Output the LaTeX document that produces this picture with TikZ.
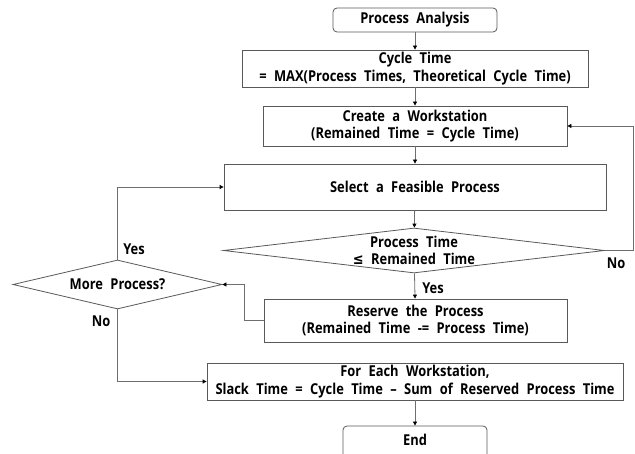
\documentclass[tikz,border=0pt]{standalone}
\usepackage{fontspec}
\setmainfont{Open Sans}[FakeStretch=0.86, WordSpace=2.2]
\newfontfamily\symfont{DejaVu Sans}[FakeStretch=0.86]
\usetikzlibrary{shapes.geometric,arrows.meta}
\definecolor{boxgray}{HTML}{595959}
\definecolor{linegray}{HTML}{6E6E6E}
\begin{document}
\begin{tikzpicture}[x=1pt,y=-1pt,
  txt/.style={font=\fontsize{15}{17.5}\selectfont\bfseries},
  proc/.style={txt, draw=boxgray, line width=0.8pt, fill=white, align=center, inner sep=0pt},
  term/.style={proc, rounded corners=4pt},
  decision/.style={draw=boxgray, line width=0.8pt, fill=white, diamond, inner sep=0pt},
  lbl/.style={txt, inner sep=0pt, align=center},
  flow/.style={draw=linegray, line width=0.8pt, -{Triangle[length=4pt,width=4pt,color=black]}}]
\clip (0,0) rectangle (635,454);

% main column
\node[term, minimum width=164pt, minimum height=24pt] (pa) at (415,20) {Process Analysis};
\node[proc, minimum width=346pt, minimum height=37pt] (ct) at (415,68.5) {Cycle Time\\ = MAX(Process Times, Theoretical Cycle Time)};
\node[proc, minimum width=304pt, minimum height=40pt] (cw) at (415,126) {Create a Workstation\\(Remained Time = Cycle Time)};
\node[proc, minimum width=382pt, minimum height=46pt] (sf) at (415,187) {Select a Feasible Process};
\node[decision, minimum width=381pt, minimum height=45pt] (d1) at (414,250.5) {};
\node[lbl] (d1txt) at (d1) {Process Time\\{\symfont ≤} Remained Time};
\node[proc, minimum width=303pt, minimum height=43pt] (rp) at (415.5,320.5) {Reserve the Process\\(Remained Time -= Process Time)};
\node[decision, minimum width=209pt, minimum height=49pt] (d2) at (117.5,284.5) {};
\node[lbl] (d2txt) at (d2) {More Process?};
\node[proc, minimum width=416pt, minimum height=37pt] (fe) at (415,381.5) {For Each Workstation,\\Slack Time = Cycle Time – Sum of Reserved Process Time};
\node[term, minimum width=144pt, minimum height=34pt] (en) at (415,443) {};
\node[lbl] (entxt) at (415,440) {End};

% loop corners
\coordinate (rloop) at (633,126);
\coordinate (rjoin) at (244,300);

% connectors
\draw[flow] (pa) -- (ct);
\draw[flow] (ct) -- (cw);
\draw[flow] (cw) -- (sf);
\draw[flow] (sf) -- (d1);
\draw[flow] (d1) -- (rp);
\draw[flow] (d1.east) -| (rloop) -- (cw.east);
\draw[flow] (rp.west) -| (rjoin |- d2.east) -- (d2.east);
\draw[flow] (d2.north) |- (sf.west);
\draw[flow] (d2.south) |- (fe.west);
\draw[flow] (fe) -- (en);

% branch labels
\node[lbl] (y1) at (433,288) {Yes};
\node[lbl] (n1) at (616,263) {No};
\node[lbl] (y2) at (134,249) {Yes};
\node[lbl] (n2) at (101,321) {No};
\end{tikzpicture}
\end{document}
